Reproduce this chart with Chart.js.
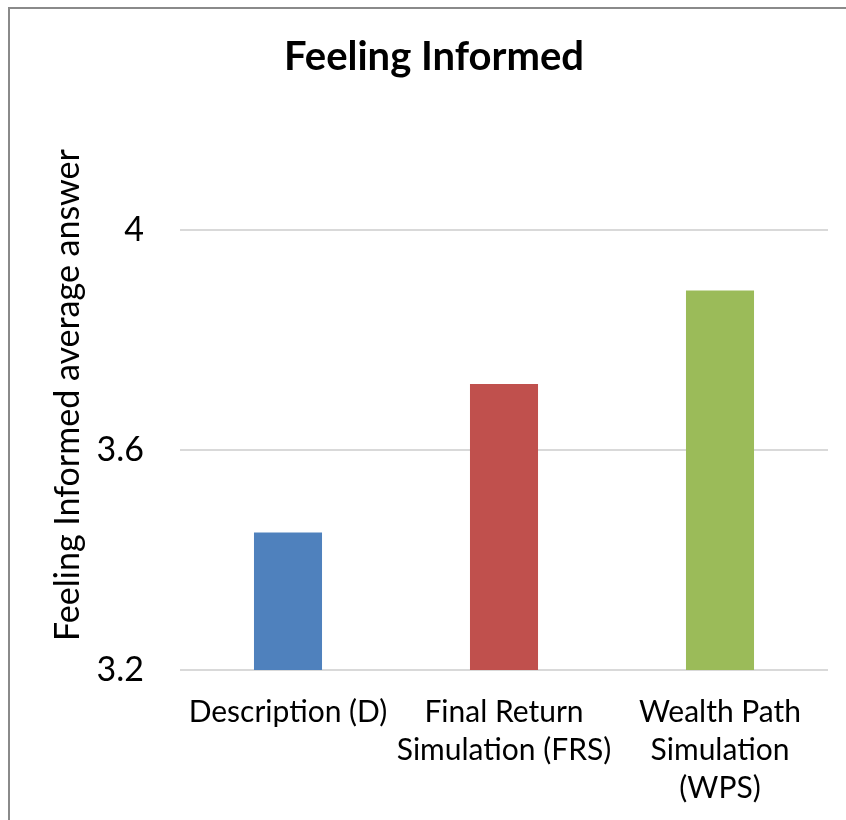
<!DOCTYPE html>
<html>
<head>
<meta charset="utf-8">
<script src="https://cdn.jsdelivr.net/npm/chart.js@4/dist/chart.umd.min.js"></script>
<style>
  html, body { margin: 0; padding: 0; background: #ffffff; }
  #wrap { position: relative; width: 846px; height: 820px; overflow: hidden; background: #ffffff; }
  #frame { position: absolute; left: 8px; top: 7px; width: 900px; height: 900px;
           border-left: 2px solid #8a8a8a; border-top: 2px solid #8a8a8a; box-sizing: border-box; pointer-events: none; }
  canvas { position: absolute; left: 0; top: 0; }
</style>
</head>
<body>
<div id="wrap">
  <canvas id="c" width="846" height="820"></canvas>
  <div id="frame"></div>
</div>
<script>
// Survey groups and their average "feeling informed" score
const categories = [
  ["Description (D)"],
  ["Final Return", "Simulation (FRS)"],
  ["Wealth Path", "Simulation", "(WPS)"]
];
const averages = [3.45, 3.72, 3.89];
const barColors = ["#4F81BD", "#C0504D", "#9BBB59"];
const yTicks = [3.2, 3.6, 4.0];

const FONT = "Lato, 'Open Sans', 'DejaVu Sans', sans-serif";

new Chart(document.getElementById("c"), {
  type: "bar",
  data: {
    labels: categories,
    datasets: [{
      data: averages,
      backgroundColor: barColors,
      borderWidth: 0,
      barPercentage: 0.315,
      categoryPercentage: 1.0
    }]
  },
  options: {
    responsive: false,
    animation: false,
    devicePixelRatio: 1,
    layout: { padding: { left: 40, right: 18, top: 0, bottom: 0 } },
    plugins: {
      legend: { display: false },
      tooltip: { enabled: false },
      title: {
        display: true,
        text: "Feeling Informed",
        color: "#000000",
        font: { family: FONT, size: 40, weight: "bold", lineHeight: 1.2 },
        padding: { top: 33, bottom: 39 }
      }
    },
    scales: {
      x: {
        grid: { display: false, drawTicks: false },
        border: { display: false },
        ticks: {
          color: "#000000",
          font: { family: FONT, size: 30, lineHeight: 1.27 },
          padding: 23,
          maxRotation: 0,
          autoSkip: false
        },
        afterFit: (s) => { s.height = 150; }
      },
      y: {
        min: 3.2,
        max: 4.2,
        afterBuildTicks: (s) => { s.ticks = yTicks.map(v => ({ value: v })); },
        grid: { color: "#D9D9D9", lineWidth: 2, drawTicks: false },
        border: { display: false },
        ticks: {
          color: "#000000",
          font: { family: FONT, size: 34 },
          padding: 36,
          callback: (v) => String(Math.round(v * 10) / 10)
        },
        title: {
          display: true,
          text: "Feeling Informed average answer",
          color: "#000000",
          font: { family: FONT, size: 34, lineHeight: 1.2 },
          padding: { top: 8, bottom: 0 }
        },
        afterFit: (s) => { s.width = 140; }
      }
    }
  }
});
</script>
</body>
</html>
